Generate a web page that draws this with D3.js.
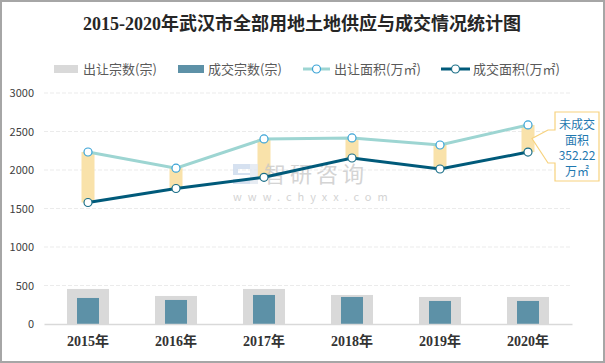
<!DOCTYPE html>
<html>
<head>
<meta charset="utf-8">
<script src="https://cdn.jsdelivr.net/npm/d3@7/dist/d3.min.js"></script>
<style>
  body { margin: 0; background: #fff; }
  svg { display: block; }
</style>
</head>
<body>
<div id="chart"></div>
<script>
var years = ["2015年", "2016年", "2017年", "2018年", "2019年", "2020年"];
var supplyCount = [455, 364, 455, 377, 351, 351];
var dealCount = [338, 312, 377, 351, 299, 299];
var supplyArea = [2234, 2024, 2403, 2416, 2325, 2585];
var dealArea = [1578, 1760, 1905, 2156, 2013, 2232.78];
var yTicks = [0, 500, 1000, 1500, 2000, 2500, 3000];
var noteLines = ["未成交", "面积", "352.22", "万㎡"];

var width = 605, height = 363;
var sans = "'Microsoft YaHei', 'Noto Sans CJK SC', 'Noto Sans', sans-serif";
var serif = "'Liberation Serif', 'Noto Sans CJK SC', serif";

var svg = d3.select("#chart").append("svg")
    .attr("width", width)
    .attr("height", height);

// border
svg.append("rect")
    .attr("x", 1).attr("y", 1)
    .attr("width", width - 2).attr("height", height - 2)
    .attr("fill", "#fff")
    .attr("stroke", "#a6a6a6")
    .attr("stroke-width", 2);

// title
svg.append("text")
    .attr("x", 302).attr("y", 30)
    .attr("text-anchor", "middle")
    .attr("font-family", serif)
    .attr("font-weight", "bold")
    .attr("font-size", 18)
    .attr("fill", "#262626")
    .text("2015-2020年武汉市全部用地土地供应与成交情况统计图");

var x = d3.scaleBand().domain(years).range([44, 572]).padding(0);
var y = d3.scaleLinear().domain([0, 3000]).range([324, 93]);
var cx = function(d, i) { return x(years[i]) + x.bandwidth() / 2; };

// grid
svg.append("g").selectAll("line")
    .data(yTicks.slice(1))
    .enter().append("line")
    .attr("x1", 44).attr("x2", 572)
    .attr("y1", function(d) { return y(d); })
    .attr("y2", function(d) { return y(d); })
    .attr("stroke", "#ebebeb")
    .attr("stroke-dasharray", "4,2");

// y axis labels
var yAxis = d3.axisLeft(y).tickValues(yTicks).tickFormat(d3.format("d")).tickSize(0).tickPadding(0);
var gy = svg.append("g").attr("transform", "translate(34,0)").call(yAxis);
gy.select(".domain").remove();
gy.selectAll("text")
    .attr("font-family", sans)
    .attr("font-size", 11)
    .attr("fill", "#404040");

// bars
svg.append("g").selectAll("rect")
    .data(supplyCount)
    .enter().append("rect")
    .attr("x", function(d, i) { return cx(d, i) - 21; })
    .attr("y", function(d) { return y(d); })
    .attr("width", 42)
    .attr("height", function(d) { return y(0) - y(d); })
    .attr("fill", "#d9d9d9");

svg.append("g").selectAll("rect")
    .data(dealCount)
    .enter().append("rect")
    .attr("x", function(d, i) { return cx(d, i) - 11; })
    .attr("y", function(d) { return y(d); })
    .attr("width", 22)
    .attr("height", function(d) { return y(0) - y(d); })
    .attr("fill", "#5d91a7");

// x axis
var xAxis = d3.axisBottom(x).tickSize(0).tickPadding(12);
var gx = svg.append("g").attr("transform", "translate(0," + y(0) + ")").call(xAxis);
gx.select(".domain").attr("stroke", "#d9d9d9").attr("stroke-width", 1.5);
gx.selectAll("text")
    .attr("font-family", serif)
    .attr("font-weight", "bold")
    .attr("font-size", 14)
    .attr("fill", "#333");

// gap bars between supply and deal area
svg.append("g").selectAll("rect")
    .data(supplyArea)
    .enter().append("rect")
    .attr("x", function(d, i) { return cx(d, i) - 6.5; })
    .attr("y", function(d) { return y(d); })
    .attr("width", 13)
    .attr("height", function(d, i) { return y(dealArea[i]) - y(d); })
    .attr("fill", "#f9e2aa");

// watermark
var wm = svg.append("g").attr("opacity", 0.75);
wm.append("path")
    .attr("d", "M233,164h24v5h-19v4h19v11h-24v-5h19v-4h-19z")
    .attr("fill", "#c9d8ec");
wm.append("rect").attr("x", 250).attr("y", 164).attr("width", 8).attr("height", 20).attr("fill", "#dfe6f0");
wm.append("text")
    .attr("x", 264).attr("y", 182)
    .attr("font-family", sans)
    .attr("font-size", 22)
    .attr("letter-spacing", 4)
    .attr("fill", "#c6c6c6")
    .text("智研咨询");
wm.append("text")
    .attr("x", 233).attr("y", 201)
    .attr("font-family", sans)
    .attr("font-size", 11)
    .attr("letter-spacing", 6)
    .attr("fill", "#c6c6c6")
    .text("www.chyxx.com");

// lines
var line = d3.line()
    .x(function(d, i) { return cx(d, i); })
    .y(function(d) { return y(d); });

svg.append("path")
    .datum(supplyArea)
    .attr("d", line)
    .attr("fill", "none")
    .attr("stroke", "#9dd5d2")
    .attr("stroke-width", 3);

svg.append("path")
    .datum(dealArea)
    .attr("d", line)
    .attr("fill", "none")
    .attr("stroke", "#005a7a")
    .attr("stroke-width", 3);

svg.append("g").selectAll("circle")
    .data(supplyArea)
    .enter().append("circle")
    .attr("cx", cx)
    .attr("cy", function(d) { return y(d); })
    .attr("r", 4)
    .attr("fill", "#fff")
    .attr("stroke", "#3aa3d6")
    .attr("stroke-width", 1.2);

svg.append("g").selectAll("circle")
    .data(dealArea)
    .enter().append("circle")
    .attr("cx", cx)
    .attr("cy", function(d) { return y(d); })
    .attr("r", 4)
    .attr("fill", "#fff")
    .attr("stroke", "#1b6f88")
    .attr("stroke-width", 1.2);

// callout for 2020
var bx = 555, by = 112, bw = 44, bh = 69;
var tipX = 532, tipY = (y(supplyArea[5]) + y(dealArea[5])) / 2;
svg.append("path")
    .attr("d", "M" + bx + "," + by + "H" + (bx + bw) + "V" + (by + bh) + "H" + bx +
        "V163H548L" + tipX + "," + tipY + "L548,130H" + bx + "Z")
    .attr("fill", "#fff")
    .attr("stroke", "#f7d27e")
    .attr("stroke-width", 1.2);

svg.append("g").selectAll("text")
    .data(noteLines)
    .enter().append("text")
    .attr("x", bx + bw / 2)
    .attr("y", function(d, i) { return 129 + i * 15.5; })
    .attr("text-anchor", "middle")
    .attr("font-family", sans)
    .attr("font-size", 12)
    .attr("fill", "#1f78b0")
    .text(function(d) { return d; });

// legend
var legend = svg.append("g").attr("font-family", sans).attr("font-size", 13).attr("fill", "#595959");
legend.append("rect").attr("x", 54).attr("y", 65).attr("width", 24).attr("height", 8).attr("fill", "#d9d9d9");
legend.append("text").attr("x", 83).attr("y", 73.5).text("出让宗数(宗)");
legend.append("rect").attr("x", 178).attr("y", 65).attr("width", 26).attr("height", 8).attr("fill", "#5d91a7");
legend.append("text").attr("x", 208).attr("y", 73.5).text("成交宗数(宗)");
legend.append("line").attr("x1", 303).attr("x2", 330).attr("y1", 69).attr("y2", 69)
    .attr("stroke", "#9dd5d2").attr("stroke-width", 3);
legend.append("circle").attr("cx", 316.5).attr("cy", 69).attr("r", 4)
    .attr("fill", "#fff").attr("stroke", "#3aa3d6").attr("stroke-width", 1.2);
legend.append("text").attr("x", 334).attr("y", 73.5).text("出让面积(万㎡)");
legend.append("line").attr("x1", 441).attr("x2", 470).attr("y1", 69).attr("y2", 69)
    .attr("stroke", "#005a7a").attr("stroke-width", 3);
legend.append("circle").attr("cx", 455.5).attr("cy", 69).attr("r", 4)
    .attr("fill", "#fff").attr("stroke", "#1b6f88").attr("stroke-width", 1.2);
legend.append("text").attr("x", 473).attr("y", 73.5).text("成交面积(万㎡)");
</script>
</body>
</html>
